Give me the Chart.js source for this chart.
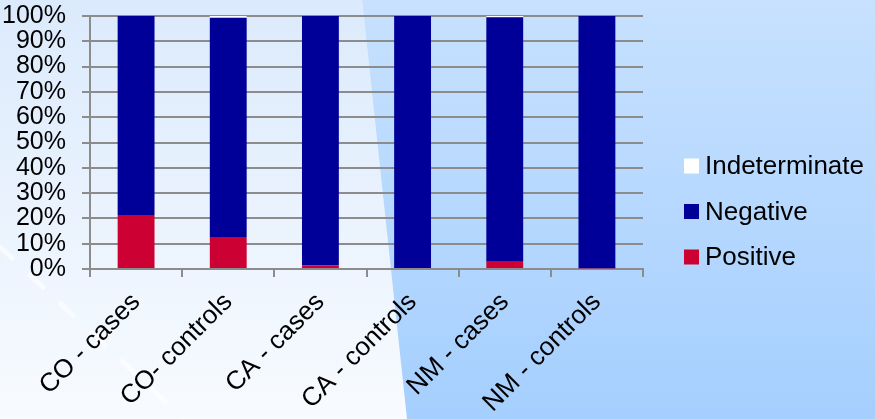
<!DOCTYPE html>
<html>
<head>
<meta charset="utf-8">
<script src="https://cdn.jsdelivr.net/npm/chart.js@4/dist/chart.umd.min.js"></script>
<style>
html, body { margin: 0; padding: 0; overflow: hidden; }
</style>
</head>
<body>
<canvas id="chart" width="875" height="419"></canvas>
<script>
// groups on the x axis
var groups = ['CO - cases', 'CO- controls', 'CA - cases', 'CA - controls', 'NM - cases', 'NM - controls'];

// percent of each group
var positive = [21.3, 12.6, 1.4, 0, 2.9, 0.3];
var negative = [78.7, 86.7, 98.6, 100, 96.6, 99.7];
var indeterminate = [0, 0.7, 0, 0, 0.5, 0];

var yTicks = [0, 10, 20, 30, 40, 50, 60, 70, 80, 90, 100];

var FONT = 'Liberation Sans, Arial, sans-serif';

// background of the slide: two panels split by a slanted edge
var slideBackground = {
	id: 'slideBackground',
	beforeDraw: function(chart)
	{
		var ctx = chart.ctx;
		var w = chart.width, h = chart.height;
		ctx.save();
		var gl = ctx.createLinearGradient(0, 0, 0, h);
		gl.addColorStop(0, '#dbeafc');
		gl.addColorStop(1, '#f8fbff');
		ctx.fillStyle = gl;
		ctx.beginPath();
		ctx.moveTo(0, 0); ctx.lineTo(362, 0); ctx.lineTo(407, h); ctx.lineTo(0, h);
		ctx.closePath();
		ctx.fill();
		var gr = ctx.createLinearGradient(0, 0, 0, h);
		gr.addColorStop(0, '#c7e1fe');
		gr.addColorStop(1, '#a5cffe');
		ctx.fillStyle = gr;
		ctx.beginPath();
		ctx.moveTo(362, 0); ctx.lineTo(w, 0); ctx.lineTo(w, h); ctx.lineTo(407, h);
		ctx.closePath();
		ctx.fill();
		// faint dashed streak bottom left
		ctx.strokeStyle = 'rgba(255,255,255,0.6)';
		ctx.lineWidth = 5;
		ctx.setLineDash([22, 20]);
		ctx.beginPath();
		ctx.moveTo(-2, 245);
		ctx.lineTo(190, 425);
		ctx.stroke();
		ctx.restore();
	}
};

// legend on the right, last series on top
var sideLegend = {
	id: 'sideLegend',
	afterDraw: function(chart)
	{
		var ctx = chart.ctx;
		var sets = chart.data.datasets.slice().reverse();
		ctx.save();
		ctx.font = '26px ' + FONT;
		ctx.textBaseline = 'middle';
		ctx.textAlign = 'left';
		sets.forEach(function(ds, i) {
			var y = 166 + i * 45.5;
			ctx.fillStyle = ds.backgroundColor;
			ctx.fillRect(684, y - 7.5, 15, 15);
			ctx.fillStyle = '#000';
			ctx.fillText(ds.label, 705, y + 1);
		});
		ctx.restore();
	}
};

var ctx = document.getElementById('chart').getContext('2d');
var myChart = new Chart(ctx, {
	type: 'bar',
	data: {
		labels: groups,
		datasets: [
			{ label: 'Positive', data: positive, backgroundColor: '#cc0033' },
			{ label: 'Negative', data: negative, backgroundColor: '#000099' },
			{ label: 'Indeterminate', data: indeterminate, backgroundColor: '#ffffff' }
		]
	},
	options: {
		responsive: false,
		animation: false,
		devicePixelRatio: 1,
		layout: { padding: { top: 16, left: 0, right: 232, bottom: 0 } },
		datasets: { bar: { categoryPercentage: 1, barPercentage: 0.4 } },
		plugins: {
			legend: { display: false },
			tooltip: { enabled: false }
		},
		scales: {
			x: {
				stacked: true,
				grid: { drawOnChartArea: false, drawTicks: true, tickLength: 8, color: '#8c8c8c', lineWidth: 2, offset: true },
				border: { color: '#8c8c8c', width: 2 },
				ticks: {
					color: '#000',
					font: { family: FONT, size: 26 },
					maxRotation: 45, minRotation: 45,
					padding: 10
				},
				afterFit: function(s) { s.height = 150; s.paddingLeft = 0; s.paddingRight = 0; }
			},
			y: {
				stacked: true,
				min: 0, max: 100,
				afterBuildTicks: function(s) { s.ticks = yTicks.map(function(v) { return { value: v }; }); },
				grid: { color: '#8c8c8c', lineWidth: 2, tickLength: 8 },
				border: { color: '#8c8c8c', width: 2 },
				ticks: {
					color: '#000',
					font: { family: FONT, size: 25 },
					padding: 16,
					autoSkip: false,
					callback: function(v) { return v + '%'; }
				},
				afterFit: function(s) { s.width = 90; s.paddingTop = 0; s.paddingBottom = 0; }
			}
		}
	},
	plugins: [slideBackground, sideLegend]
});
</script>
</body>
</html>
